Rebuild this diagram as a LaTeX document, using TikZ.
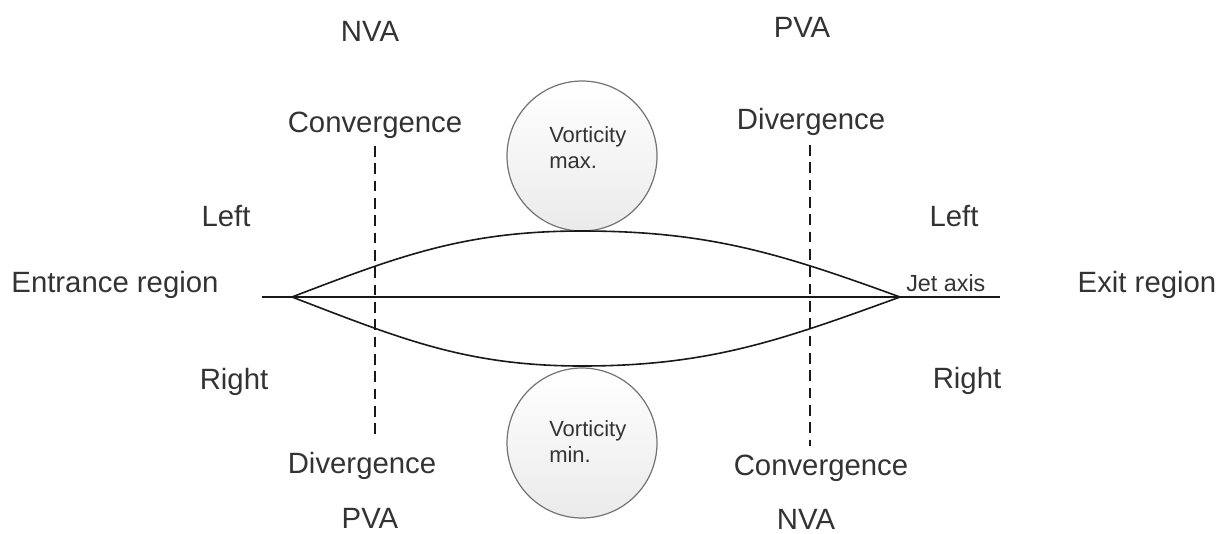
\documentclass[tikz,border=0pt]{standalone}
\usepackage{fontspec}
\setmainfont{Liberation Sans}
\begin{document}
\begin{tikzpicture}[x=0.75pt,y=-0.75pt,
  lbl/.style={text=black!80,font=\fontsize{22}{25}\selectfont,inner sep=0pt},
  small/.style={text=black!80,font=\fontsize{16.5}{19.5}\selectfont,inner sep=0pt},
  vort/.style={circle,minimum size=112.5pt,inner sep=0pt,draw=black!55,line width=0.9pt,
    top color=white,bottom color=black!8},
  ln/.style={line width=1.2pt,black!90},
  dsh/.style={line width=1.1pt,black!90,dash pattern=on 8pt off 5pt}]
\useasboundingbox (0,0) rectangle (1230,533);
% labels
\node[lbl] (nvaT) at (370,31) {NVA};
\node[lbl] (pvaT) at (802,27) {PVA};
\node[lbl] (convT) at (375,125) {Convergence};
\node[lbl] (divT) at (811,122) {Divergence};
\node[lbl] (leftL) at (226,216) {Left};
\node[lbl] (leftR) at (954,216) {Left};
\node[lbl] (entr) at (115,285) {Entrance region};
\node[lbl] (exit) at (1147,285) {Exit region};
\node[lbl] (rightL) at (234,382) {Right};
\node[lbl] (rightR) at (967,381) {Right};
\node[lbl] (divB) at (362,466) {Divergence};
\node[lbl] (convB) at (821,468) {Convergence};
\node[lbl] (pvaB) at (370,518) {PVA};
\node[lbl] (nvaB) at (806,519) {NVA};
% vorticity circles
\node[vort] (vmax) at (582,156) {};
\node[vort] (vmin) at (582,443) {};
\node[small,align=left,anchor=west] (vmaxt) at (549,148) {Vorticity\\max.};
\node[small,align=left,anchor=west] (vmint) at (549,442) {Vorticity\\min.};
% jet axis
\coordinate (axL) at (262,297);
\coordinate (axR) at (1000,297);
\coordinate (tipL) at (292,297);
\coordinate (tipR) at (900,297);
\coordinate (apT) at (582,231);
\coordinate (apB) at (582,366);
\draw[ln] (axL) -- (axR);
\node[small,anchor=south west,font=\fontsize{17.5}{20}\selectfont] (jet) at (906,292) {Jet axis};
\draw[ln] (tipL) to[out=21,in=180] (apT) to[out=0,in=160] (tipR);
\draw[ln] (tipL) to[out=-21,in=180] (apB) to[out=0,in=-160] (tipR);
% dashed divergence lines
\coordinate (dLt) at (375,146);
\coordinate (dLb) at (375,440);
\coordinate (dRt) at (810,145);
\coordinate (dRb) at (810,446);
\draw[dsh] (dLt) -- (dLb);
\draw[dsh] (dRt) -- (dRb);
\end{tikzpicture}
\end{document}
